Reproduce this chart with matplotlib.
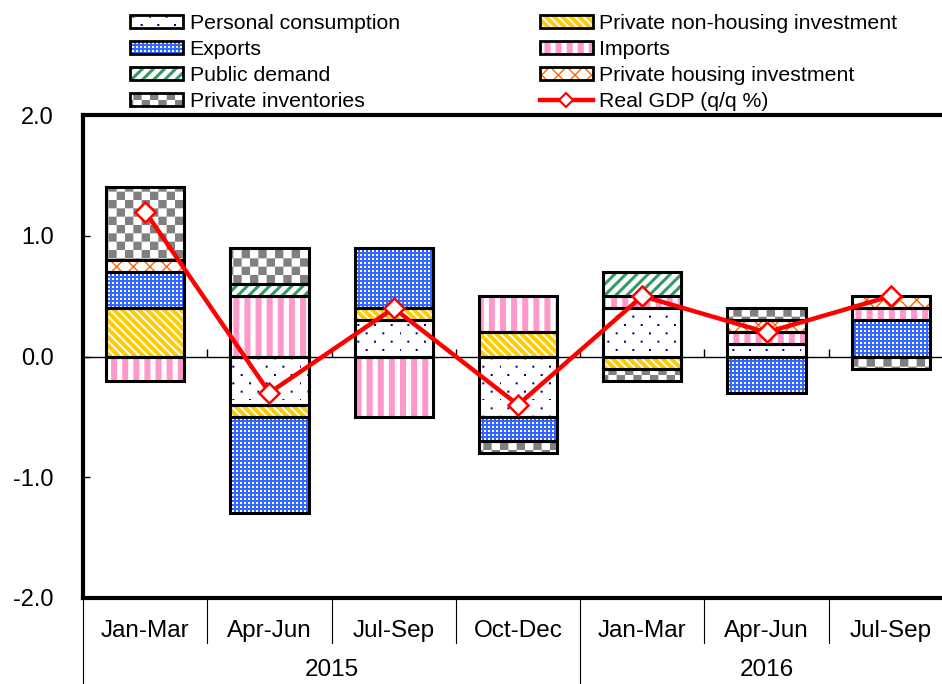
import warnings
import numpy as np
import matplotlib
matplotlib.use("Agg")
import matplotlib.pyplot as plt
import matplotlib.hatch as mhatch
import matplotlib.transforms as mtransforms
from matplotlib.path import Path
from matplotlib.patches import Patch
from matplotlib.lines import Line2D
from matplotlib.legend_handler import HandlerTuple, HandlerPatch

warnings.filterwarnings("ignore")

# ---------------------------------------------------------------- data
quarters = ["Jan-Mar", "Apr-Jun", "Jul-Sep", "Oct-Dec", "Jan-Mar", "Apr-Jun", "Jul-Sep"]
years = ["2015", "2016"]
quarters_per_year = [4, 3]

personal_consumption = [0.0, -0.4, 0.3, -0.5, 0.4, 0.1, 0.0]
private_nonhousing = [0.4, -0.1, 0.1, 0.2, -0.1, 0.0, 0.0]
exports = [0.3, -0.8, 0.5, -0.2, 0.0, -0.3, 0.3]
imports = [-0.2, 0.5, -0.5, 0.3, 0.1, 0.1, 0.1]
public_demand = [0.0, 0.1, 0.0, 0.0, 0.2, 0.0, 0.0]
private_housing = [0.1, 0.0, 0.0, 0.0, 0.0, 0.1, 0.1]
private_inventories = [0.6, 0.3, 0.0, -0.1, -0.1, 0.1, -0.1]
real_gdp = [1.2, -0.3, 0.4, -0.4, 0.5, 0.2, 0.5]

y_ticks = [2.0, 1.0, 0.0, -1.0, -2.0]
y_tick_labels = ["2.0", "1.0", "0.0", "-1.0", "-2.0"]


# ------------------------------------------------- custom fill patterns
class _RectTileHatch(mhatch.HatchPatternBase):
    """Hatch made of filled rectangles inside the unit tile."""
    key = None

    def __init__(self, hatch, density):
        self.rects = self.tile() if (hatch and self.key in hatch) else []
        self.num_vertices = 5 * len(self.rects)

    def tile(self):
        return []

    def set_vertices_and_codes(self, vertices, codes):
        for k, (x0, y0, w, h) in enumerate(self.rects):
            vertices[5 * k:5 * k + 5] = [(x0, y0), (x0 + w, y0), (x0 + w, y0 + h),
                                         (x0, y0 + h), (x0, y0)]
            codes[5 * k:5 * k + 5] = [Path.MOVETO, Path.LINETO, Path.LINETO,
                                      Path.LINETO, Path.CLOSEPOLY]


class CheckerHatch(_RectTileHatch):
    key = "k"

    def tile(self):
        n = 12
        c = 1.0 / n
        return [(i * c, j * c, c, c) for i in range(n) for j in range(n) if (i + j) % 2 == 0]


class StaggeredDotHatch(_RectTileHatch):
    key = "p"

    def tile(self):
        cols, rows, s = 6, 12, 0.02
        out = []
        for r in range(rows):
            off = (r % 2) * 0.5 / cols
            for c in range(cols):
                out.append((c / cols + off - s / 2, r / rows - s / 2, s, s))
        return out


class FineDotHatch(_RectTileHatch):
    key = "e"

    def tile(self):
        n, s = 25, 0.02
        return [(i / n, j / n, s, s) for i in range(n) for j in range(n)]


class VerticalBandHatch(_RectTileHatch):
    key = "v"

    def tile(self):
        n, w = 9, 0.06
        return [(i / n, 0.0, w, 1.0) for i in range(n)]


for cls in (CheckerHatch, StaggeredDotHatch, FineDotHatch, VerticalBandHatch):
    mhatch._hatch_types.append(cls)

series = [
    ("Personal consumption", personal_consumption,
     dict(face="white", hatch="p", hcolor="#000080", hlw=0.01)),
    ("Private non-housing investment", private_nonhousing,
     dict(face="#FFCC00", hatch="\\\\\\\\", hcolor="white", hlw=1.4)),
    ("Exports", exports,
     dict(face="#3366FF", hatch="e", hcolor="white", hlw=0.01)),
    ("Imports", imports,
     dict(face="white", hatch="v", hcolor="#FF99CC", hlw=0.01)),
    ("Public demand", public_demand,
     dict(face="white", hatch="///", hcolor="#339966", hlw=2.2)),
    ("Private housing investment", private_housing,
     dict(face="white", hatch="xx", hcolor="#FF6600", hlw=1.0)),
    ("Private inventories", private_inventories,
     dict(face="white", hatch="k", hcolor="#808080", hlw=0.01)),
]


def set_hlw(patch, lw):
    try:
        patch.set_hatch_linewidth(lw)
    except AttributeError:
        pass


class HatchPatchHandler(HandlerPatch):
    """Legend patch handler that also carries over the hatch line width."""

    def update_prop(self, legend_handle, orig_handle, legend):
        super().update_prop(legend_handle, orig_handle, legend)
        try:
            legend_handle.set_hatch_linewidth(orig_handle.get_hatch_linewidth())
        except AttributeError:
            pass


# ---------------------------------------------------------------- figure
plt.rcParams["font.family"] = ["Liberation Sans", "DejaVu Sans"]

W, H = 942, 684
fig = plt.figure(figsize=(W / 100, H / 100), dpi=100)
ax = fig.add_axes([83 / W, 86 / H, 870 / W, 483 / H])

n = len(quarters)
x = np.arange(n)
bar_width = 0.63

ax.axhline(0, color="black", lw=1.0, zorder=1)

pos_base = np.zeros(n)
neg_base = np.zeros(n)
legend_patches = {}
for label, vals, st in series:
    v = np.asarray(vals, dtype=float)
    bottom = np.where(v >= 0, pos_base, neg_base)
    m = v != 0
    fill = ax.bar(x[m], v[m], bar_width, bottom=bottom[m], color=st["face"],
                  hatch=st["hatch"], edgecolor=st["hcolor"], linewidth=0, zorder=2)
    for p in fill:
        set_hlw(p, st["hlw"])
    ax.bar(x[m], v[m], bar_width, bottom=bottom[m], fill=False,
           edgecolor="black", linewidth=2.2, zorder=3)
    pos_base += np.where(v > 0, v, 0)
    neg_base += np.where(v < 0, v, 0)

    hp = Patch(facecolor=st["face"], hatch=st["hatch"], edgecolor=st["hcolor"], linewidth=0)
    set_hlw(hp, st["hlw"])
    bp = Patch(fill=False, edgecolor="black", linewidth=2.0)
    legend_patches[label] = (hp, bp)

gdp_line, = ax.plot(x, real_gdp, color="#FF0000", lw=3.2, marker="D", ms=10,
                    mfc="white", mec="#FF0000", mew=1.8, zorder=5)

# small marks on the zero line between quarters
bounds = np.arange(n + 1) - 0.5
ax.vlines(bounds[1:-1], 0, 0.06, color="black", lw=1.0, zorder=1)

ax.set_xlim(-0.5, n - 0.5)
ax.set_ylim(-2, 2)
ax.set_yticks(y_ticks, y_tick_labels)
ax.set_xticks(x, quarters)
ax.tick_params(axis="y", direction="in", length=5, width=1, pad=21, labelsize=17)
ax.tick_params(axis="x", length=0, pad=16, labelsize=17.5)
for side in ("top", "left", "bottom", "right"):
    ax.spines[side].set_linewidth(3)

# quarter / year separators under the axis
trans = mtransforms.blended_transform_factory(ax.transData, ax.transAxes)
year_edges = np.concatenate([[0], np.cumsum(quarters_per_year)]) - 0.5
for b in bounds:
    low = -86 / 483 if np.any(np.isclose(b, year_edges)) else -45 / 483
    ax.plot([b, b], [0, low], color="black", lw=0.8, transform=trans, clip_on=False)
for yr, a, b in zip(years, year_edges[:-1], year_edges[1:]):
    ax.text((a + b) / 2, -72 / 483, yr, transform=trans, ha="center", va="center",
            fontsize=17.5)

# legend: two columns, filled column by column
col1 = ["Personal consumption", "Exports", "Public demand", "Private inventories"]
col2 = ["Private non-housing investment", "Imports", "Private housing investment"]
gdp_handle = Line2D([], [], color="#FF0000", lw=3.2, marker="D", ms=7,
                    mfc="white", mec="#FF0000", mew=1.5)
handles = [legend_patches[k] for k in col1] + [legend_patches[k] for k in col2] + [gdp_handle]
labels = col1 + col2 + ["Real GDP (q/q %)"]
fig.legend(handles, labels, ncol=2, loc="upper left",
           bbox_to_anchor=(130 / W, 1 - 14 / H), frameon=False, fontsize=15.3,
           handlelength=2.5, handleheight=0.55, handletextpad=0.3,
           columnspacing=6.6, labelspacing=0.33, borderpad=0, borderaxespad=0,
           handler_map={tuple: HandlerTuple(ndivide=1, pad=0),
                        Patch: HatchPatchHandler()})

fig.savefig("out.png", dpi=100)
